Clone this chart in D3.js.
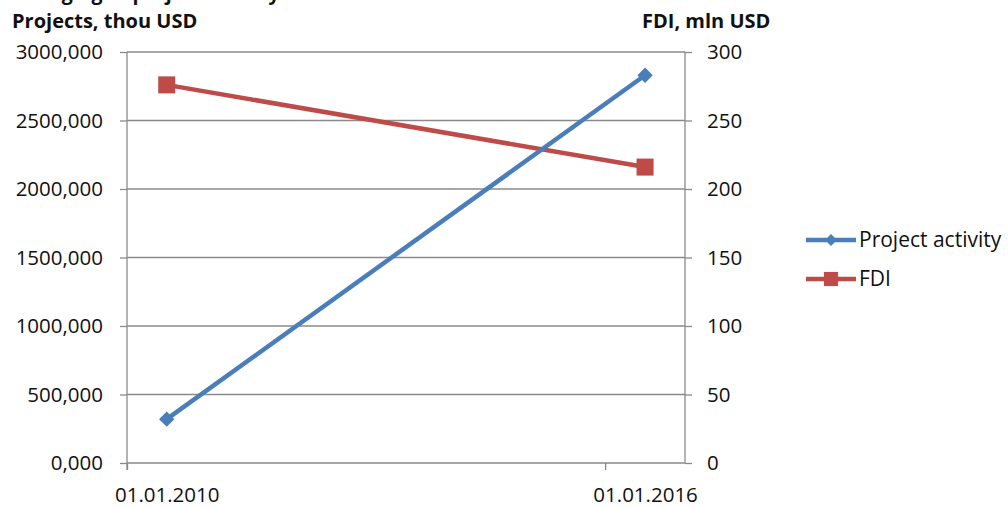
<!DOCTYPE html>
<html>
<head>
<meta charset="utf-8">
<script src="https://cdn.jsdelivr.net/npm/d3@7"></script>
<style>
  html, body { margin: 0; padding: 0; background: #fff; }
  svg text { font-family: "Open Sans", Lato, sans-serif; fill: #111; }
</style>
</head>
<body>
<svg id="chart" width="1008" height="507"></svg>
<script>
// ---- data ----
const dates = ["2010-07-02", "2016-07-02"];
const projectActivity = [320, 2830];   // thou USD, left axis
const fdi = [276, 216];                // mln USD, right axis
const xTickDates = ["2010-01-01", "2016-01-01"];
const xTickLabels = ["01.01.2010", "01.01.2016"];
const leftTicks = [0, 500, 1000, 1500, 2000, 2500, 3000];
const leftTickLabels = ["0,000", "500,000", "1000,000", "1500,000", "2000,000", "2500,000", "3000,000"];
const rightTicks = [0, 50, 100, 150, 200, 250, 300];
const seriesNames = ["Project activity", "FDI"];

const parse = d3.timeParse("%Y-%m-%d");
const svg = d3.select("#chart");
const FONT = "'Open Sans', Lato, sans-serif";
const FS = 20.5;

const L = 127, R = 685, T = 52, B = 463;
const x = d3.scaleTime().domain([parse("2010-01-01"), parse("2017-01-01")]).range([L, R]);
const yL = d3.scaleLinear().domain([0, 3000]).range([B, T]);
const yR = d3.scaleLinear().domain([0, 300]).range([B, T]);

const grid = "#8a8a8a";
const blue = "#4a7ebb", red = "#be4b48";

// gridlines
svg.append("g").selectAll("line").data(leftTicks).join("line")
  .attr("x1", L).attr("x2", R)
  .attr("y1", d => yL(d)).attr("y2", d => yL(d))
  .attr("stroke", grid).attr("stroke-width", 1.3);

// left axis
const leftAxis = d3.axisLeft(yL).tickValues(leftTicks).tickSize(7).tickPadding(17)
  .tickFormat((d, i) => leftTickLabels[i]);
const gl = svg.append("g").attr("transform", `translate(${L},0)`).call(leftAxis);
gl.select(".domain").remove();
gl.append("line").attr("x1", 0).attr("x2", 0).attr("y1", T).attr("y2", B + 7)
  .attr("stroke", grid).attr("stroke-width", 1.3);
gl.selectAll(".tick line").attr("stroke", grid).attr("stroke-width", 1.3);
gl.selectAll(".tick text").attr("font-size", FS).attr("fill", "#111").style("font-family", FONT);

// right axis
const rightAxis = d3.axisRight(yR).tickValues(rightTicks).tickSize(7).tickPadding(15);
const gr = svg.append("g").attr("transform", `translate(${R},0)`).call(rightAxis);
gr.select(".domain").remove();
gr.append("line").attr("x1", 0).attr("x2", 0).attr("y1", T).attr("y2", B)
  .attr("stroke", grid).attr("stroke-width", 1.3);
gr.selectAll(".tick line").attr("stroke", grid).attr("stroke-width", 1.3);
gr.selectAll(".tick text").attr("font-size", FS).attr("fill", "#111").style("font-family", FONT);

// bottom axis: tick marks at period starts, labels centred in the period (at data dates)
const bottomAxis = d3.axisBottom(x).tickValues(xTickDates.map(parse)).tickSize(7).tickFormat("");
const gb = svg.append("g").attr("transform", `translate(0,${B})`).call(bottomAxis);
gb.select(".domain").remove();
gb.selectAll(".tick line").attr("stroke", grid).attr("stroke-width", 1.3);
const gbl = d3.axisBottom(x).tickValues(dates.map(parse)).tickSize(0).tickPadding(24)
  .tickFormat((d, i) => xTickLabels[i]);
const gb2 = svg.append("g").attr("transform", `translate(0,${B})`).call(gbl);
gb2.select(".domain").remove();
gb2.selectAll(".tick text").attr("font-size", FS).attr("fill", "#111").style("font-family", FONT);

// axis titles
svg.append("text").attr("x", 12).attr("y", 28).attr("font-size", 20).attr("font-weight", "bold")
  .text("Projects, thou USD");
svg.append("text").attr("x", 642).attr("y", 28).attr("font-size", 20).attr("font-weight", "bold")
  .text("FDI, mln USD");
// heading above (cropped at the top edge in the reference)
svg.append("text").attr("x", 12).attr("y", 0).attr("font-size", 19.5).attr("font-weight", "bold")
  .text("Changing of project activity");

// series lines
const lineL = d3.line().x((d, i) => x(parse(dates[i]))).y(d => yL(d));
const lineR = d3.line().x((d, i) => x(parse(dates[i]))).y(d => yR(d));

svg.append("path").datum(fdi).attr("d", lineR).attr("fill", "none")
  .attr("stroke", red).attr("stroke-width", 4.5);
svg.append("path").datum(projectActivity).attr("d", lineL).attr("fill", "none")
  .attr("stroke", blue).attr("stroke-width", 4.5);

const diamond = d3.symbol().type(d3.symbolDiamond2).size(150);
const square = d3.symbol().type(d3.symbolSquare).size(290);

svg.append("g").selectAll("path").data(fdi).join("path")
  .attr("d", square)
  .attr("transform", (d, i) => `translate(${x(parse(dates[i]))},${yR(d)})`)
  .attr("fill", red);
svg.append("g").selectAll("path").data(projectActivity).join("path")
  .attr("d", diamond)
  .attr("transform", (d, i) => `translate(${x(parse(dates[i]))},${yL(d)})`)
  .attr("fill", blue);

// legend
const legend = svg.append("g");
const legendItems = [
  { name: seriesNames[0], color: blue, sym: d3.symbol().type(d3.symbolDiamond2).size(90), y: 240 },
  { name: seriesNames[1], color: red, sym: d3.symbol().type(d3.symbolSquare).size(200), y: 279 }
];
legendItems.forEach(it => {
  legend.append("line").attr("x1", 806).attr("x2", 856).attr("y1", it.y).attr("y2", it.y)
    .attr("stroke", it.color).attr("stroke-width", 4.5);
  legend.append("path").attr("d", it.sym).attr("transform", `translate(831,${it.y})`).attr("fill", it.color);
  legend.append("text").attr("x", 859).attr("y", it.y + 7).attr("font-size", 21).text(it.name);
});
</script>
</body>
</html>
